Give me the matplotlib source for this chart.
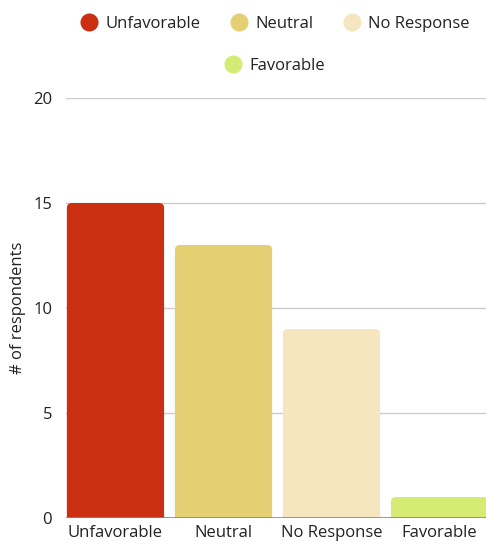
import matplotlib.pyplot as plt
from matplotlib.patches import FancyBboxPatch
from matplotlib.lines import Line2D

plt.rcParams["font.family"] = ["Open Sans", "DejaVu Sans"]
font_size = 12

categories = ["Unfavorable", "Neutral", "No Response", "Favorable"]
counts = [15, 13, 9, 1]
colors = ["#C92F10", "#E5CF73", "#F5E6C0", "#D6EB74"]

fig = plt.figure(figsize=(4.86, 5.41), dpi=100)
ax = fig.add_axes([66 / 486, 23 / 541, 420 / 486, 420 / 541])

x = list(range(len(categories)))
width = 0.9
ax.set_xlim(-0.458, 3.43)
ax.set_ylim(0, 20)

# rounded bars: x units per px = 1/108, y units per px = 20/420
px_x = 1 / 108
px_y = 20 / 420
for xi, v, c in zip(x, counts, colors):
    p = FancyBboxPatch((xi - width / 2, -1), width, v + 1,
                       boxstyle="round,pad=0,rounding_size=%f" % (5 * px_x),
                       mutation_aspect=px_y / px_x,
                       facecolor=c, edgecolor="none", zorder=3)
    ax.add_patch(p)

ax.set_yticks([0, 5, 10, 15, 20])
ax.grid(axis="y", color="#cccccc", linewidth=1, zorder=0)
ax.axhline(0, color="#888888", linewidth=1.2, zorder=4)
for s in ax.spines.values():
    s.set_visible(False)
ax.tick_params(axis="both", length=0, labelsize=font_size, colors="#222222")
ax.tick_params(axis="y", pad=10)
ax.tick_params(axis="x", pad=5)
ax.set_xticks(x)
ax.set_xticklabels(categories)
fig.text(18 / 486, 1 - 308 / 541, "# of respondents", rotation=90,
         ha="center", va="center", fontsize=font_size, color="#222222")

def handle(c):
    return Line2D([], [], marker="o", linestyle="none", markersize=13,
                  markerfacecolor=c, markeredgecolor="none")

leg1 = fig.legend([handle(c) for c in colors[:3]], categories[:3],
                  loc="center", bbox_to_anchor=(0.566, 1 - 24 / 541), ncol=3,
                  frameon=False, fontsize=font_size, handletextpad=0.5,
                  columnspacing=1.8, handlelength=1.0)
leg2 = fig.legend([handle(colors[3])], categories[3:],
                  loc="center", bbox_to_anchor=(0.566, 1 - 66 / 541), ncol=1,
                  frameon=False, fontsize=font_size, handletextpad=0.5,
                  handlelength=1.0)
for leg in (leg1, leg2):
    for t in leg.get_texts():
        t.set_color("#222222")

fig.savefig("out.png", dpi=100)
